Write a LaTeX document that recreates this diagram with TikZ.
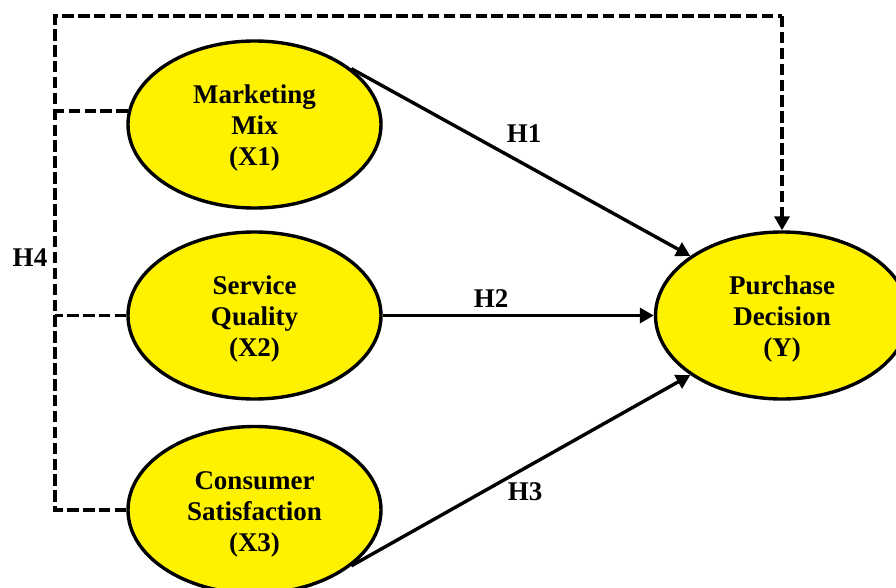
\documentclass[tikz,border=0pt]{standalone}
\usepackage{fontspec}
\setmainfont{Liberation Serif}
\usetikzlibrary{shapes.geometric,arrows.meta}
\begin{document}
\begin{tikzpicture}[x=1pt,y=-1pt,
  construct/.style={ellipse,draw=black,line width=3.4pt,fill=yellow,minimum width=253pt,minimum height=167pt,inner sep=0pt},
  ctext/.style={align=center,inner sep=0pt,font=\bfseries\fontsize{27}{31}\selectfont},
  hlabel/.style={font=\bfseries\fontsize{27}{31}\selectfont,inner sep=0pt},
  path/.style={line width=3.4pt,-{Triangle[length=14pt,width=15pt]}},
  dline/.style={line width=3.4pt,dash pattern=on 11.5pt off 4.4pt},
  darrow/.style={dline,-{Triangle[length=14pt,width=15pt]}}]
\useasboundingbox (0,0) rectangle (896,588);
\clip (0,0) rectangle (896,588);
\node[construct] (X1) at (254.5,124.5) {};
\node[construct] (X2) at (254.5,315.5) {};
\node[construct] (X3) at (254.5,510) {};
\node[construct] (Y) at (782,315.5) {};
\node[ctext] (X1t) at ([yshift=-4pt]X1.center) {Marketing\\Mix\\(X1)};
\node[ctext] (X2t) at ([yshift=-4pt]X2.center) {Service\\Quality\\(X2)};
\node[ctext] (X3t) at ([yshift=-4pt]X3.center) {Consumer\\Satisfaction\\(X3)};
\node[ctext] (Yt) at ([yshift=-4pt]Y.center) {Purchase\\Decision\\(Y)};
\coordinate (tl) at (55,16);
\coordinate (tr) at (782,16);
\draw[path] (X1.30.5) -- (Y.147);
\draw[path] (X2.east) -- (Y.west);
\draw[path] (X3.-30) -- (Y.-147);
\draw[dline] (X3.west) -- (X3.west -| tl) -- (tl) -- (tr);
\draw[darrow] (tr) -- (Y.north);
\draw[dline] (X1.174) -- (X1.174 -| tl);
\draw[dline] (X2.west) -- (X2.west -| tl);
\node[hlabel] (H1) at (524,134) {H1};
\node[hlabel] (H2) at (491,298.5) {H2};
\node[hlabel] (H3) at (525,492) {H3};
\node[hlabel] (H4) at (30,258) {H4};
\end{tikzpicture}
\end{document}
